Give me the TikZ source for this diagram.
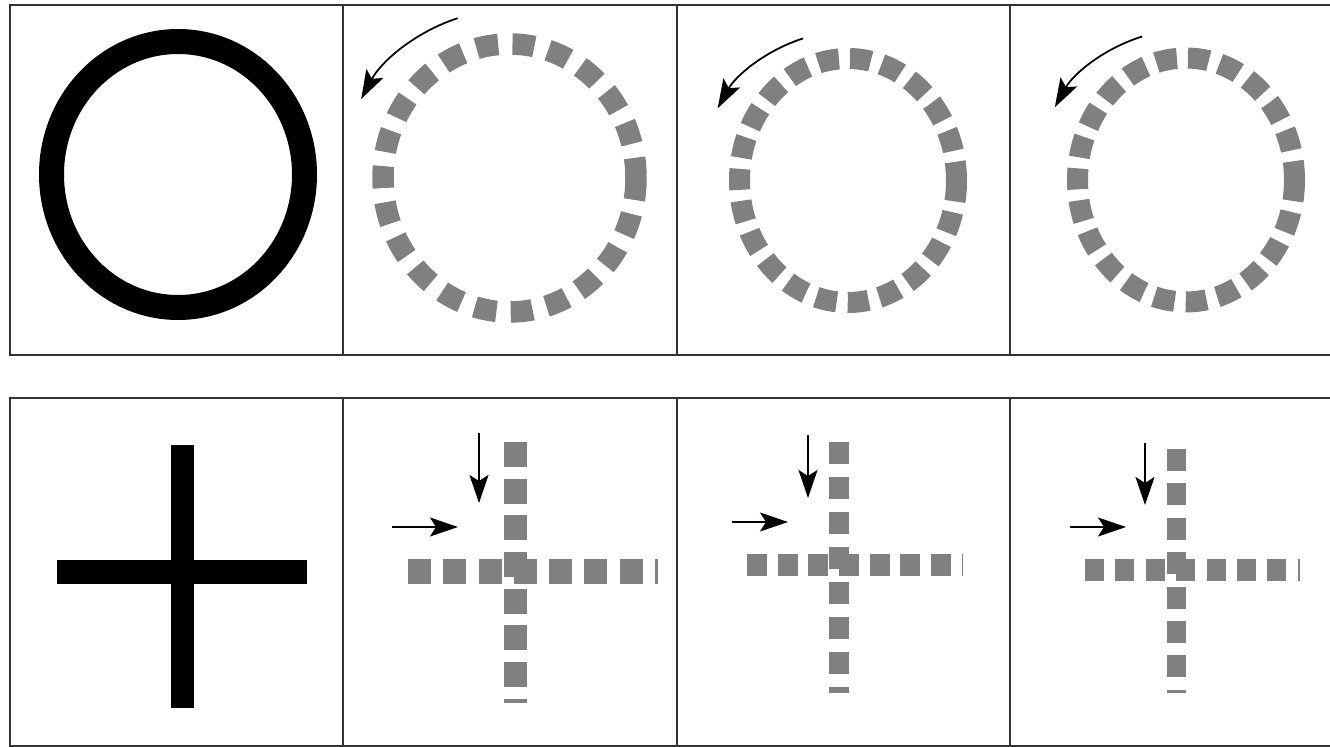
\documentclass[tikz,border=0pt]{standalone}
\usepackage{xcolor}
\usepackage{tikz}
\usetikzlibrary{arrows.meta,calc}
\definecolor{framegray}{RGB}{51,51,51}
\definecolor{dashgray}{RGB}{128,128,128}

\begin{document}
\begin{tikzpicture}[
  x=0.02cm, y=-0.02cm,
  frame/.style={draw=framegray,line width=1.2pt},
  ring/.style={draw=black,line width=0.5cm},
  dashring/.style={draw=dashgray,line width=0.43cm},
  solidbar/.style={draw=black,line width=0.48cm},
  dashbar/.style={draw=dashgray},
  turn/.style={draw=black,line width=1pt,-{Stealth[length=0.58cm,width=0.38cm,inset=0.12cm]}},
  push/.style={draw=black,line width=1pt,-{Stealth[length=0.56cm,width=0.38cm,inset=0.12cm]}},
]
\useasboundingbox (0,0) rectangle (1330,747);

% Frames
\draw[frame] (1330,5) -- (10,5) -- (10,355) -- (1330,355);
\draw[frame] (1330,398) -- (10,398) -- (10,746) -- (1330,746);
\foreach \x in {343,677,1010} {
  \draw[frame] (\x,5) -- (\x,355);
  \draw[frame] (\x,398) -- (\x,746);
}

% Rings
\coordinate (ring1) at (178,174.5);
\coordinate (ring2) at (509.5,178);
\coordinate (ring3) at (848,180.5);
\coordinate (ring4) at (1186,180);

\draw[ring] (ring1) ellipse [x radius=126.5, y radius=133];
\draw[dashring,dash pattern=on 0.44cm off 0.286cm] (ring2) ellipse [x radius=126.5, y radius=134];
\draw[dashring,line width=0.42cm,dash pattern=on 0.42cm off 0.222cm] (ring3) ellipse [x radius=108.5, y radius=122];
\draw[dashring,line width=0.42cm,dash pattern=on 0.42cm off 0.222cm] (ring4) ellipse [x radius=108.5, y radius=122];

% Turning arrows
\draw[turn] ($(ring2)+(-108:168)$) arc [start angle=-108, end angle=-152, radius=168];
\draw[turn] ($(ring3)+(-107.5:149)$) arc [start angle=-107.5, end angle=-151, radius=149];
\draw[turn] ($(ring4)+(-107:150)$) arc [start angle=-107, end angle=-151, radius=150];

% Crosses
\draw[solidbar] (182.5,445) -- (182.5,708);
\draw[solidbar] (57,571.5) -- (307,571.5);

\draw[dashbar,line width=0.5cm,dash pattern=on 0.46cm off 0.246cm] (408,571) -- (658,571);
\draw[dashbar,line width=0.46cm,dash pattern=on 0.5cm off 0.234cm] (515,442) -- (515,703);

\draw[dashbar,line width=0.44cm,dash pattern=on 0.4cm off 0.214cm] (747,565) -- (963,565);
\draw[dashbar,line width=0.4cm,dash pattern=on 0.44cm off 0.26cm] (839,442) -- (839,693);

\draw[dashbar,line width=0.44cm,dash pattern=on 0.38cm off 0.228cm] (1085,569.5) -- (1300,569.5);
\draw[dashbar,line width=0.38cm,dash pattern=on 0.44cm off 0.248cm] (1176.5,449) -- (1176.5,693);

% Shift arrows
\draw[push] (479,433) -- (479,503);
\draw[push] (392,527) -- (458,527);
\draw[push] (808,435) -- (808,498);
\draw[push] (732,522) -- (788,522);
\draw[push] (1145,443) -- (1145,505);
\draw[push] (1070,527) -- (1126,527);

\end{tikzpicture}
\end{document}
